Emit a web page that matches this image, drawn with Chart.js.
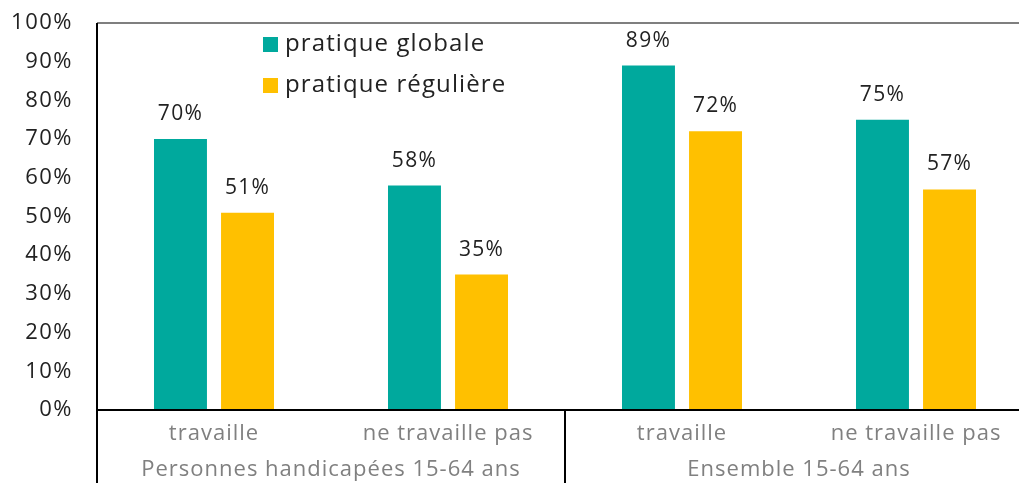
<!DOCTYPE html>
<html>
<head>
<meta charset="utf-8">
<script src="https://cdn.jsdelivr.net/npm/chart.js@4"></script>
<style>
  body { margin: 0; overflow: hidden; background: #fff; }
  #wrap { width: 1040px; height: 483px; }
</style>
</head>
<body>
<div id="wrap"><canvas id="chart" width="1040" height="483"></canvas></div>
<script>
// data
var categories = ["travaille", "ne travaille pas", "travaille", "ne travaille pas"];
var groups = ["Personnes handicapées 15-64 ans", "Ensemble 15-64 ans"];
var groupSize = 2;
var seriesNames = ["pratique globale", "pratique régulière"];
var globale = [70, 58, 89, 75];
var reguliere = [51, 35, 72, 57];
var yTicks = [0, 10, 20, 30, 40, 50, 60, 70, 80, 90, 100];

var FONT = "'Open Sans', sans-serif";
var colors = ["#00A99D", "#FFC000"];

// wider letters for the tick labels (original font is Raleway)
var spacing = {
  id: 'spacing',
  beforeDraw: function(chart) { chart.ctx.letterSpacing = '1.5px'; }
};

// value labels, legend, two level x axis and frame lines
var extras = {
  id: 'extras',
  afterDatasetsDraw: function(chart) {
    var ctx = chart.ctx;
    var area = chart.chartArea;
    var x = chart.scales.x;
    ctx.save();

    // value labels above bars
    ctx.letterSpacing = '1.3px';
    ctx.fillStyle = '#222';
    ctx.font = '21px ' + FONT;
    ctx.textAlign = 'center';
    ctx.textBaseline = 'middle';
    chart.data.datasets.forEach(function(ds, i) {
      chart.getDatasetMeta(i).data.forEach(function(bar, j) {
        ctx.fillText(ds.data[j] + '%', bar.x, bar.y - 25);
      });
    });

    // legend
    ctx.font = '24px ' + FONT;
    ctx.letterSpacing = '1.1px';
    ctx.textAlign = 'left';
    chart.data.datasets.forEach(function(ds, i) {
      var cy = 44 + i * 41;
      ctx.fillStyle = ds.backgroundColor;
      ctx.fillRect(263, cy - 7, 15, 15);
      ctx.fillStyle = '#222';
      ctx.fillText(ds.label, 285, cy);
    });

    // top frame line
    ctx.strokeStyle = '#7f7f7f';
    ctx.lineWidth = 2;
    ctx.beginPath();
    ctx.moveTo(area.left, area.top);
    ctx.lineTo(chart.width, area.top);
    ctx.stroke();

    // x axis line + dividers
    ctx.strokeStyle = '#000';
    ctx.beginPath();
    ctx.moveTo(area.left, area.bottom);
    ctx.lineTo(chart.width, area.bottom);
    ctx.moveTo(area.left, area.top);
    ctx.lineTo(area.left, chart.height);
    var half = (x.getPixelForTick(1) - x.getPixelForTick(0)) / 2;
    for (var g = 1; g < groups.length; g++) {
      var dx = x.getPixelForTick(g * groupSize) - half;
      ctx.moveTo(dx, area.bottom);
      ctx.lineTo(dx, chart.height);
    }
    ctx.stroke();

    // category and group labels
    ctx.letterSpacing = '1px';
    ctx.fillStyle = '#808080';
    ctx.font = '22px ' + FONT;
    ctx.textAlign = 'center';
    categories.forEach(function(c, i) {
      ctx.fillText(c, x.getPixelForTick(i), area.bottom + 24);
    });
    groups.forEach(function(gname, g) {
      var first = x.getPixelForTick(g * groupSize);
      var last = x.getPixelForTick(g * groupSize + groupSize - 1);
      ctx.fillText(gname, (first + last) / 2, area.bottom + 60);
    });
    ctx.restore();
  }
};

var ctxC = document.getElementById('chart');
var chart = new Chart(ctxC, {
  type: 'bar',
  data: {
    labels: categories,
    datasets: [
      { label: seriesNames[0], data: globale, backgroundColor: colors[0] },
      { label: seriesNames[1], data: reguliere, backgroundColor: colors[1] }
    ]
  },
  options: {
    responsive: false,
    animation: false,
    devicePixelRatio: 1,
    layout: { padding: { top: 23, right: 7, left: 0, bottom: 0 } },
    categoryPercentage: 0.573,
    barPercentage: 0.79,
    plugins: { legend: { display: false }, tooltip: { enabled: false } },
    scales: {
      x: {
        grid: { display: false, drawTicks: false },
        border: { display: false },
        ticks: { display: false },
        afterFit: function(s) { s.height = 73; s.paddingLeft = 0; s.paddingRight = 0; }
      },
      y: {
        min: 0,
        max: 100,
        afterBuildTicks: function(s) {
          s.ticks = yTicks.map(function(v) { return { value: v }; });
        },
        grid: { display: false, drawTicks: false },
        border: { display: false },
        ticks: {
          padding: 24,
          color: '#222',
          font: { family: FONT, size: 22 },
          callback: function(v) { return v + '%'; }
        },
        afterFit: function(s) { s.width = 97; s.paddingTop = 0; s.paddingBottom = 0; }
      }
    }
  },
  plugins: [spacing, extras]
});
</script>
</body>
</html>
